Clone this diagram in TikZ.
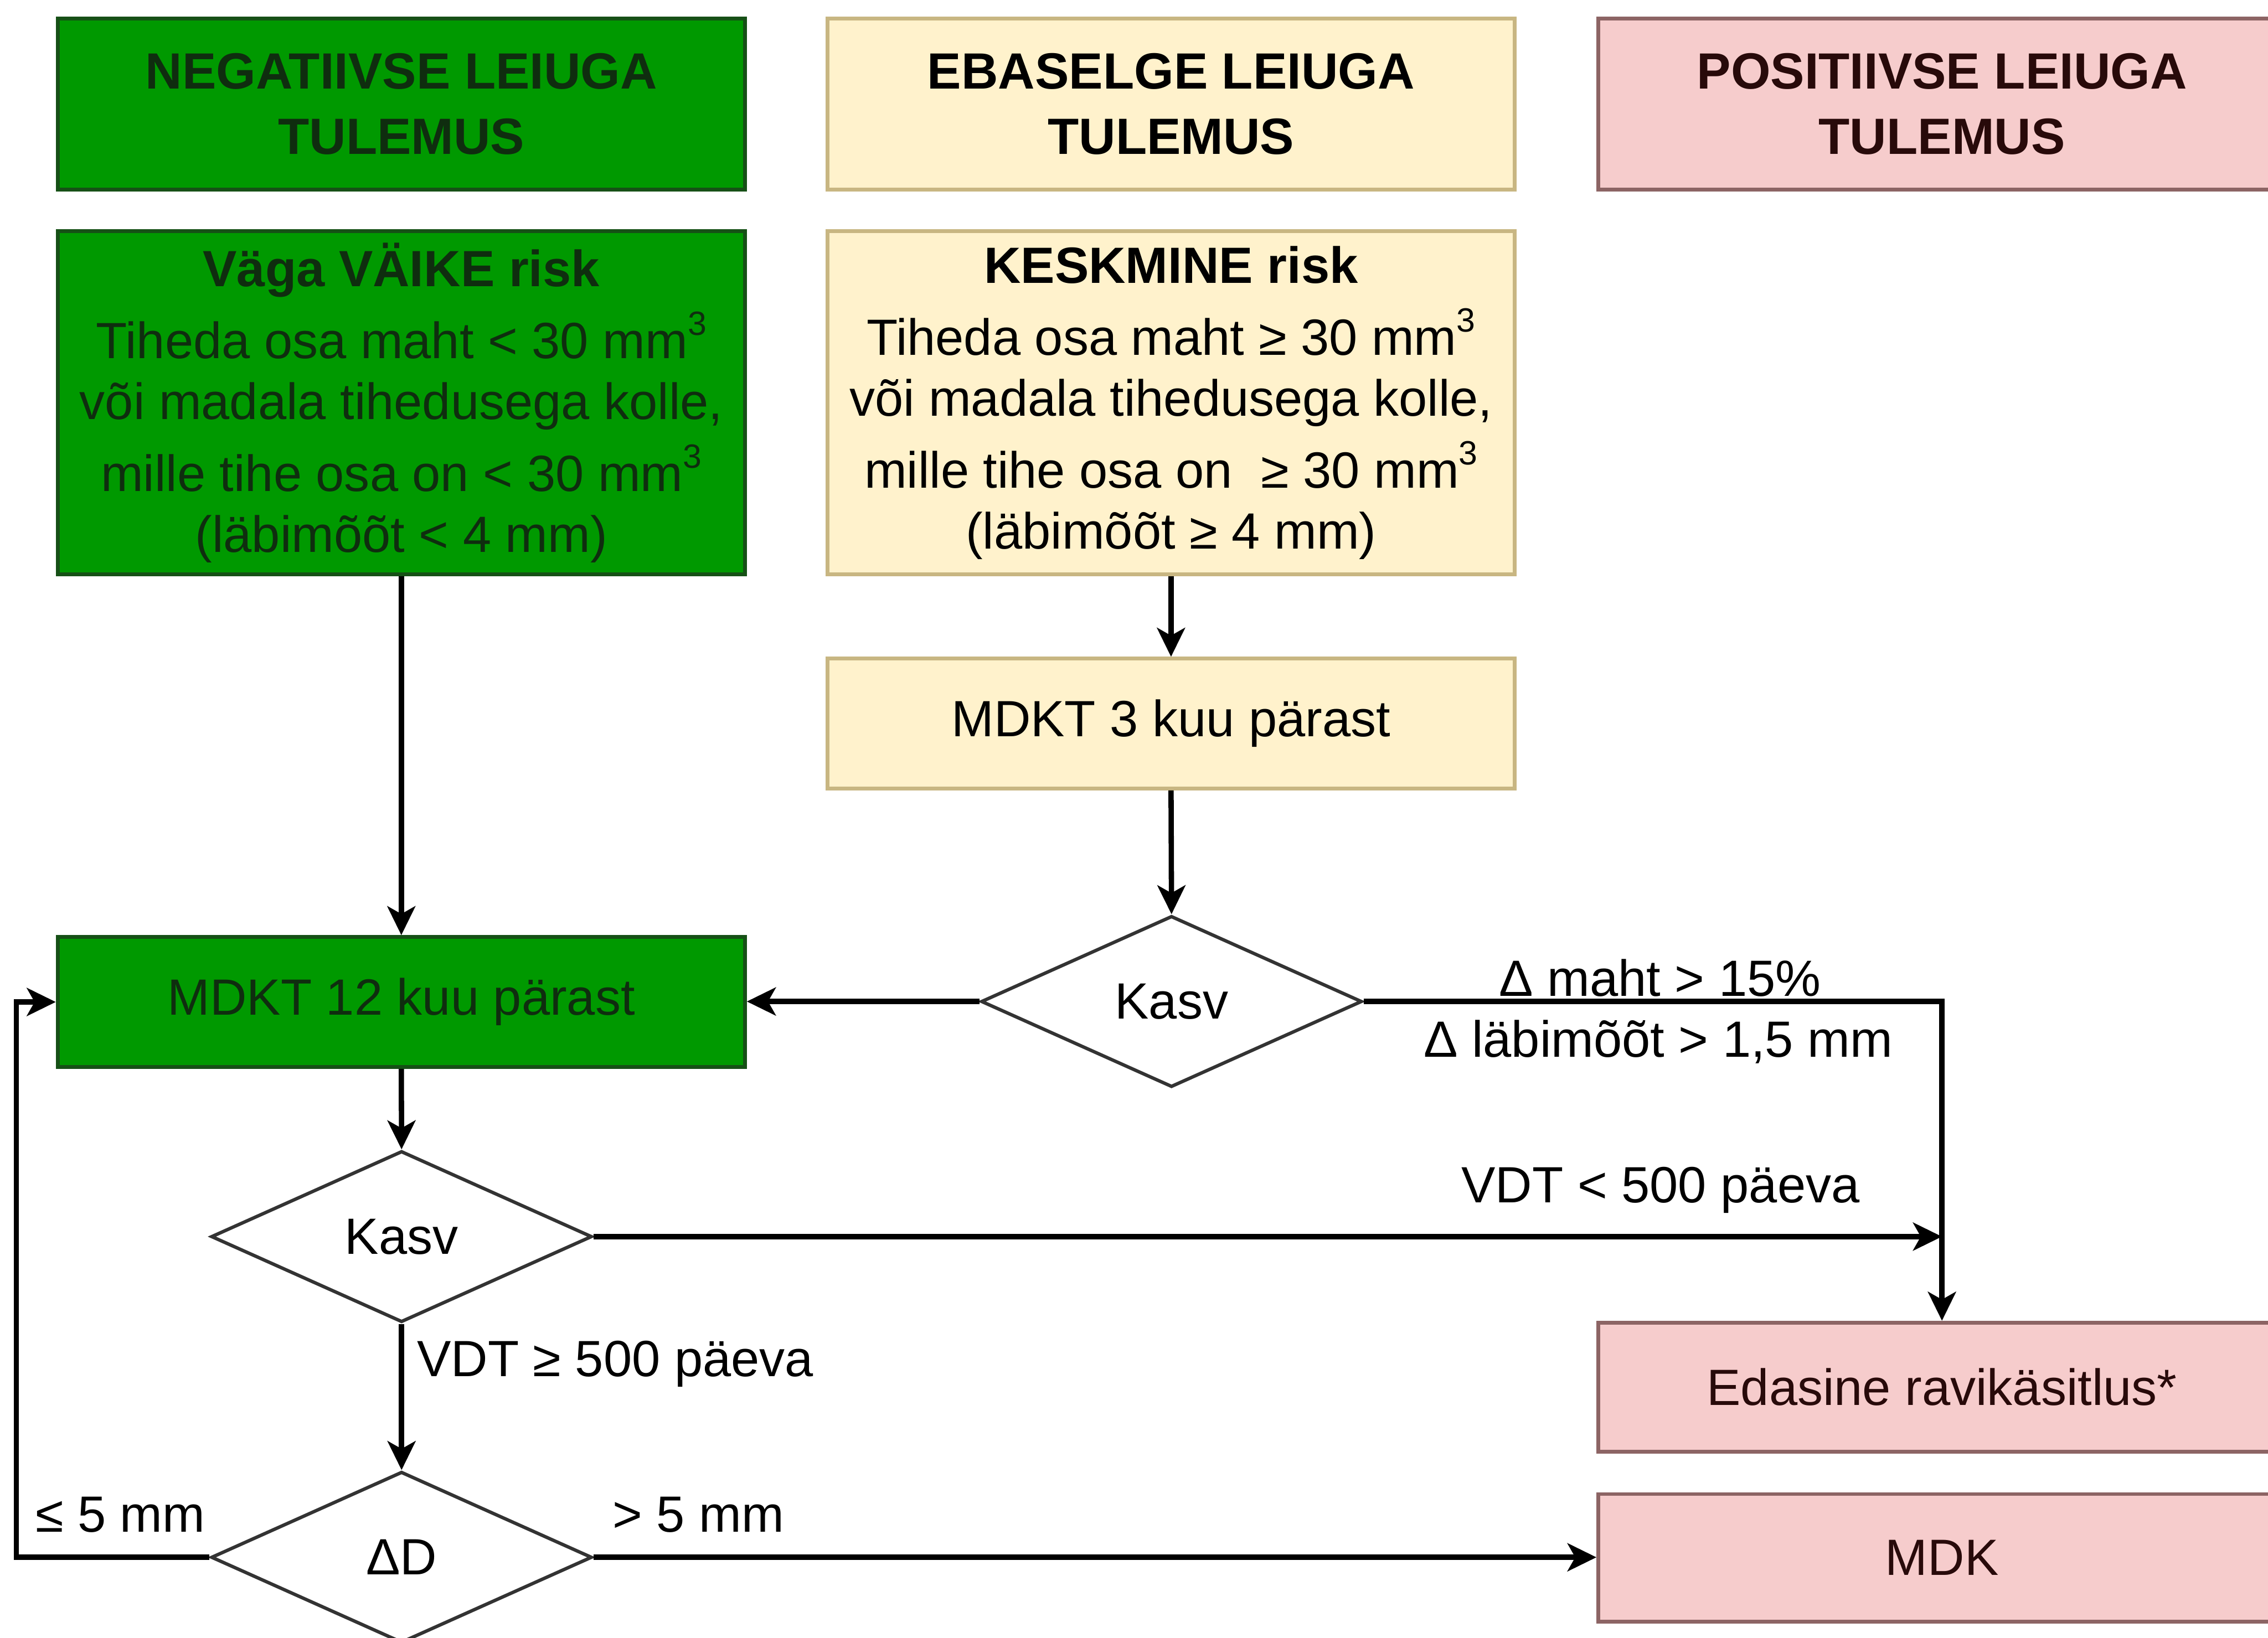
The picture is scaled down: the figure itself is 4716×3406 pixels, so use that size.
\documentclass[tikz,border=0pt]{standalone}
\usepackage{fontspec}
\setmainfont{Liberation Sans}
\usetikzlibrary{shapes.geometric,arrows.meta}
\definecolor{gfill}{RGB}{0,153,0}
\definecolor{gdraw}{RGB}{22,80,22}
\definecolor{gtext}{RGB}{15,45,15}
\definecolor{yfill}{RGB}{255,242,204}
\definecolor{ydraw}{RGB}{200,182,130}
\definecolor{pfill}{RGB}{246,204,204}
\definecolor{pdraw}{RGB}{140,100,100}
\definecolor{ptext}{RGB}{40,10,10}
\newcommand{\cubesup}{\raisebox{0.45em}{\fontsize{70}{70}\selectfont 3}}
\begin{document}
\begin{tikzpicture}[x=1pt,y=-1pt,
 every node/.style={font=\fontsize{106}{127}\selectfont, inner sep=0pt},
 box/.style={rectangle, minimum width=1429pt, line width=8pt, align=center},
 gbox/.style={box, fill=gfill, draw=gdraw, text=gtext},
 ybox/.style={box, fill=yfill, draw=ydraw, text=black},
 pbox/.style={box, fill=pfill, draw=pdraw, text=ptext},
 hdr/.style={minimum height=355pt, font=\fontsize{106}{136}\selectfont\bfseries},
 dec/.style={diamond, draw=black!80, line width=7pt, fill=white, minimum width=792pt, minimum height=356pt, inner sep=0pt},
 conn/.style={line width=11pt, -{Stealth[length=60pt,width=58pt,inset=16pt]}},
 lbl/.style={text=black}]
\useasboundingbox (0,0) rectangle (4716,3406);
\fill[white] (0,0) rectangle (4716,3406);
\clip (0,0) rectangle (4716,3406);

% headers
\node[gbox,hdr] (hN) at (834.5,216.5) {NEGATIIVSE LEIUGA\\TULEMUS};
\node[ybox,hdr] (hE) at (2435,216.5) {EBASELGE LEIUGA\\TULEMUS};
\node[pbox,hdr] (hP) at (4038,216.5) {POSITIIVSE LEIUGA\\TULEMUS};

% risk boxes
\node[gbox,minimum height=714pt] (rN) at (834.5,838)
 {\textbf{Väga VÄIKE risk}\\[22pt]
  Tiheda osa maht < 30 mm\cubesup\\
  või madala tihedusega kolle,\\[22pt]
  mille tihe osa on < 30 mm\cubesup\\
  (läbimõõt < 4 mm)};
\node[ybox,minimum height=714pt] (rE) at (2435,838)
 {\textbf{KESKMINE risk}\\[22pt]
  Tiheda osa maht ≥ 30 mm\cubesup\\
  või madala tihedusega kolle,\\[22pt]
  mille tihe osa on\ \ ≥ 30 mm\cubesup\\
  (läbimõõt ≥ 4 mm)};

% process boxes
\node[ybox,minimum height=270pt] (m3) at (2435,1505) {MDKT 3 kuu pärast};
\node[gbox,minimum height=270pt] (m12) at (834.5,2084) {MDKT 12 kuu pärast};
\node[pbox,minimum height=268pt] (ed) at (4038,2885) {Edasine ravikäsitlus*};
\node[pbox,minimum height=265pt] (mdk) at (4038,3240) {MDK};

% decisions
\node[dec] (kR) at (2436,2083) {Kasv};
\node[dec] (kL) at (835,2572) {Kasv};
\node[dec] (dD) at (835,3239) {ΔD};

% helper coordinates
\coordinate (lx) at (34,0);
\coordinate (vt) at (ed.north |- kL.east);

% connectors
\draw[conn] (rN.south) -- (m12.north);
\draw[conn] (rE.south) -- (m3.north);
\draw[conn] (m3.south) -- (kR.north);
\draw[conn] (kR.west) -- (kR.west -| m12.east);
\draw[conn] (kR.east) -- (kR.east -| ed.north) -- (ed.north);
\draw[conn] (m12.south) -- (kL.north);
\draw[conn] (kL.east) -- (vt);
\draw[conn] (kL.south) -- (dD.north);
\draw[conn] (dD.east) -- (dD.east -| mdk.west);
\draw[conn] (dD.west) -- (dD.west -| lx) -- (m12.west -| lx) -- (m12.west);

% labels
\node[lbl] (l1) at (3452,2034) {Δ maht > 15\%};
\node[lbl] (l2) at (3448,2167) {Δ läbimõõt > 1,5 mm};
\node[lbl] (l3) at (3453,2475) {VDT < 500 päeva};
\node[lbl,anchor=west] (l4) at (867,2837) {VDT ≥ 500 päeva};
\node[lbl] (l5) at (250,3150) {≤ 5 mm};
\node[lbl] (l6) at (1452,3150) {> 5 mm};
\end{tikzpicture}
\end{document}
